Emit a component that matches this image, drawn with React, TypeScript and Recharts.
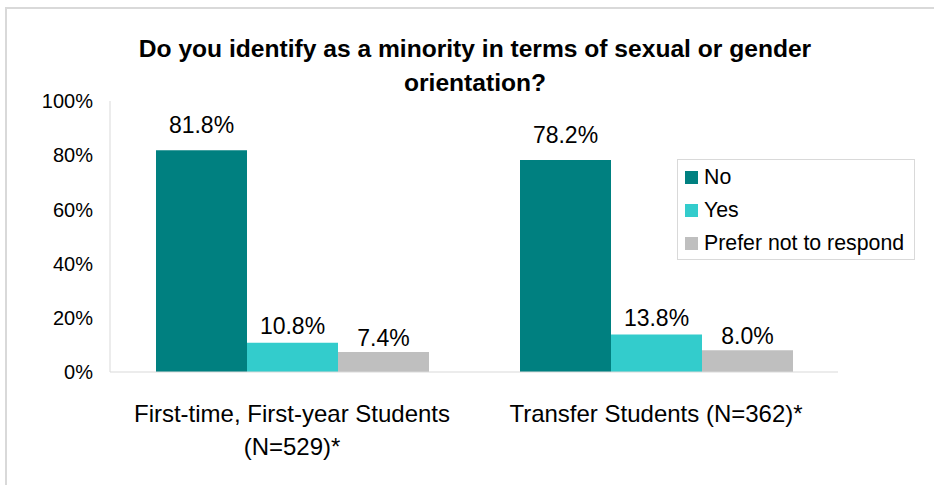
import React from 'react';
import { BarChart, Bar, XAxis, YAxis, Legend, LabelList } from 'recharts';

const categories = ['First-time, First-year Students (N=529)*', 'Transfer Students (N=362)*'];
const categoryLines = [['First-time, First-year Students', '(N=529)*'], ['Transfer Students (N=362)*']];
const noValues = [81.8, 78.2];
const yesValues = [10.8, 13.8];
const preferValues = [7.4, 8.0];
const seriesNames = ['No', 'Yes', 'Prefer not to respond'];
const seriesKeys = ['no', 'yes', 'prefer'];
const seriesColors = ['#008080', '#33CCCC', '#BFBFBF'];
const labelOffsets = [17, 9, 6];
const yTicks = [0, 20, 40, 60, 80, 100];
const titleLines = ['Do you identify as a minority in terms of sexual or gender', 'orientation?'];

const data = categories.map((c, i) => ({
  category: c,
  no: noValues[i],
  yes: yesValues[i],
  prefer: preferValues[i],
}));

const FONT = '"Liberation Sans", Arial, sans-serif';

const XTick = (props: any) => {
  const { x, y, payload } = props;
  const lines = categoryLines[payload.index] || [String(payload.value)];
  return (
    <text x={x} y={y} textAnchor="middle" fontSize={24} fill="#000" fontFamily={FONT}>
      {lines.map((l, i) => (
        <tspan key={i} x={x} dy={i === 0 ? 50 : 33}>
          {l}
        </tspan>
      ))}
    </text>
  );
};

const LegendBox = () => (
  <div
    style={{
      boxSizing: 'border-box',
      width: 238,
      height: 101,
      border: '1px solid #d9d9d9',
      background: '#fff',
      paddingTop: 1,
      fontFamily: FONT,
      fontSize: 21.3,
      color: '#000',
    }}
  >
    {seriesNames.map((n, i) => (
      <div key={n} style={{ height: 33, display: 'flex', alignItems: 'center' }}>
        <span
          style={{
            display: 'inline-block',
            width: 13,
            height: 13,
            marginLeft: 7,
            marginRight: 6,
            background: seriesColors[i],
          }}
        />
        <span style={{ whiteSpace: 'nowrap' }}>{n}</span>
      </div>
    ))}
  </div>
);

export default function App() {
  return (
    <div
      style={{
        position: 'absolute',
        left: 0,
        top: 0,
        width: 934,
        height: 485,
        overflow: 'hidden',
        background: '#fff',
      }}
    >
      <div
        style={{
          position: 'absolute',
          left: 5,
          top: 7,
          width: 960,
          height: 520,
          border: '2px solid #d9d9d9',
        }}
      />
      <div
        style={{
          position: 'absolute',
          left: 75,
          top: 32,
          width: 800,
          textAlign: 'center',
          fontFamily: FONT,
          fontWeight: 'bold',
          fontSize: 24.6,
          lineHeight: '34px',
          color: '#000',
          whiteSpace: 'nowrap',
        }}
      >
        {titleLines.map((t) => (
          <div key={t}>{t}</div>
        ))}
      </div>
      <div style={{ position: 'absolute', left: 0, top: 0 }}>
        <BarChart
          width={934}
          height={485}
          data={data}
          margin={{ top: 101, right: 96, bottom: 13, left: 0 }}
          barGap={0}
          barSize={91}
        >
          <XAxis
            dataKey="category"
            axisLine={{ stroke: '#d9d9d9' }}
            tickLine={false}
            tickSize={0}
            tickMargin={0}
            interval={0}
            height={100}
            tick={<XTick />}
          />
          <YAxis
            width={110}
            domain={[0, 100]}
            ticks={yTicks}
            tickFormatter={(v: number) => `${v}%`}
            axisLine={{ stroke: '#d9d9d9' }}
            tickLine={false}
            tickSize={0}
            tickMargin={17}
            tick={{ fill: '#000', fontSize: 20, fontFamily: FONT }}
          />
          <Legend
            layout="vertical"
            align="center"
            verticalAlign="middle"
            wrapperStyle={{ left: 677, top: 159, width: 238, height: 101 }}
            content={() => <LegendBox />}
          />
          {seriesKeys.map((k, i) => (
            <Bar
              key={k}
              dataKey={k}
              name={seriesNames[i]}
              fill={seriesColors[i]}
              isAnimationActive={false}
            >
              <LabelList
                dataKey={k}
                position="top"
                offset={labelOffsets[i]}
                formatter={(v: any) => `${Number(v).toFixed(1)}%`}
                fill="#000"
                fontSize={23}
                fontFamily={FONT}
              />
            </Bar>
          ))}
        </BarChart>
      </div>
    </div>
  );
}
